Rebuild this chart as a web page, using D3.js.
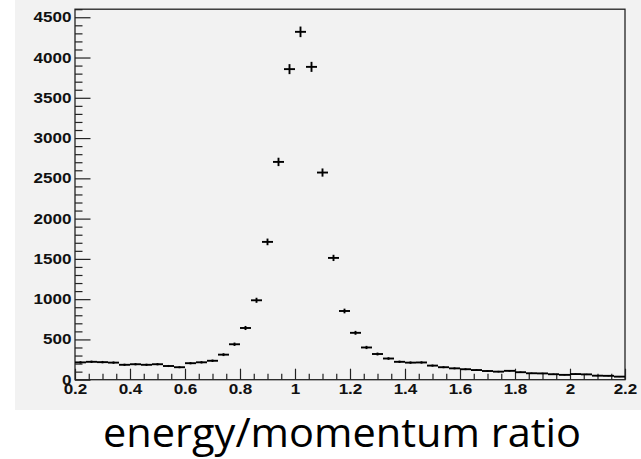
<!DOCTYPE html>
<html><head><meta charset="utf-8">
<script src="https://cdn.jsdelivr.net/npm/d3@7"></script>
<style>body{margin:0;background:#fff} svg{display:block}</style>
</head><body><svg id="c" width="641" height="459"></svg>
<script>
const binCenters = [0.22,0.26,0.30,0.34,0.38,0.42,0.46,0.50,0.54,0.58,
  0.62,0.66,0.70,0.74,0.78,0.82,0.86,0.90,0.94,0.98,
  1.02,1.06,1.10,1.14,1.18,1.22,1.26,1.30,1.34,1.38,
  1.42,1.46,1.50,1.54,1.58,1.62,1.66,1.70,1.74,1.78,
  1.82,1.86,1.90,1.94,1.98,2.02,2.06,2.10,2.14,2.18];
const counts = [215,222,218,212,185,192,185,192,170,155,
  205,216,235,311,440,642,986,1711,2704,3856,
  4319,3884,2572,1512,853,582,400,319,263,222,
  212,214,175,155,141,130,120,108,100,110,
  93,80,78,68,60,70,66,50,48,38];
const binWidth = 0.04;
const xTickValues = [0.2,0.4,0.6,0.8,1.0,1.2,1.4,1.6,1.8,2.0,2.2];
const xTickLabels = ["0.2","0.4","0.6","0.8","1","1.2","1.4","1.6","1.8","2","2.2"];
const yTickValues = [0,500,1000,1500,2000,2500,3000,3500,4000,4500];
const yTickLabels = ["0","500","1000","1500","2000","2500","3000","3500","4000","4500"];
const xTitle = "energy/momentum ratio";

const svg = d3.select("#c");
svg.append("rect").attr("x",15).attr("y",0).attr("width",626).attr("height",410).attr("fill","#f2f2f2");

const x = d3.scaleLinear().domain([0.2,2.2]).range([75,625]);
const y = d3.scaleLinear().domain([0,4600]).range([379.7,9.2]);

// minor ticks
const xMinor = d3.range(0,41).map(i=>0.2+i*0.05).filter(v=>Math.abs((v-0.2)/0.2-Math.round((v-0.2)/0.2))>1e-6);
const yMinor = d3.range(0,47).map(i=>i*100).filter(v=>v%500!==0);

const gx = svg.append("g").attr("transform","translate(0,379.7)");
gx.call(d3.axisBottom(x).tickValues(xMinor).tickSize(-6).tickFormat(""));
const gx2 = svg.append("g").attr("transform","translate(0,379.7)");
gx2.call(d3.axisBottom(x).tickValues(xTickValues).tickSize(-11).tickPadding(4.5)
  .tickFormat((d,i)=>xTickLabels[i]));
const gy = svg.append("g").attr("transform","translate(75,0)");
gy.call(d3.axisLeft(y).tickValues(yMinor).tickSize(-7.5).tickFormat(""));
const gy2 = svg.append("g").attr("transform","translate(75,0)");
gy2.call(d3.axisLeft(y).tickValues(yTickValues).tickSize(-15.5).tickPadding(3.5)
  .tickFormat((d,i)=>yTickLabels[i]));

svg.selectAll(".domain").remove();
svg.selectAll(".tick line").attr("stroke","#222").attr("stroke-width",1.2);
svg.selectAll(".tick text").attr("fill","#111")
  .style("font-family","'Liberation Sans', Arial, sans-serif")
  .style("font-weight","bold").style("font-size","14px")
  .each(function(){ const w=this.getComputedTextLength(); d3.select(this).attr("textLength",w*1.22).attr("lengthAdjust","spacingAndGlyphs"); });

// frame
svg.append("rect").attr("x",x(0.2)).attr("y",y(4600)).attr("width",x(2.2)-x(0.2)).attr("height",y(0)-y(4600))
  .attr("fill","none").attr("stroke","#222").attr("stroke-width",1.3);

// histogram with error bars
const g = svg.append("g").attr("stroke","#000").attr("stroke-width",1.9);
binCenters.forEach((c,i)=>{
  const v = counts[i], e = Math.sqrt(v);
  g.append("line").attr("x1",x(c-binWidth/2)).attr("x2",x(c+binWidth/2)).attr("y1",y(v)).attr("y2",y(v));
  g.append("line").attr("x1",x(c)).attr("x2",x(c)).attr("y1",y(v-e)).attr("y2",y(v+e));
});

svg.append("text").attr("x",342).attr("y",447).attr("text-anchor","middle")
  .style("font-family","'Open Sans', sans-serif").style("font-size","41px").attr("fill","#000")
  .attr("textLength",478).attr("lengthAdjust","spacingAndGlyphs")
  .text(xTitle);
</script></body></html>
